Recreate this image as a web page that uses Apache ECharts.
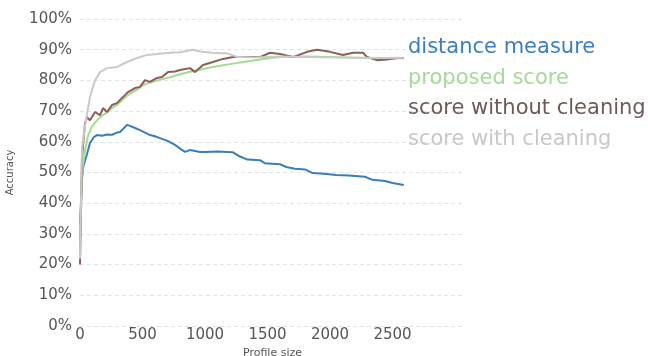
<!DOCTYPE html>
<html>
<head>
<meta charset="utf-8">
<script src="https://cdn.jsdelivr.net/npm/echarts@6/dist/echarts.min.js"></script>
<style>
  html, body { margin: 0; padding: 0; background: #fff; }
  #chart { width: 648px; height: 356px; }
</style>
</head>
<body>
<div id="chart"></div>
<script>
// Accuracy (%) against profile size for four scoring methods
const seriesNames = ['distance measure', 'proposed score', 'score without cleaning', 'score with cleaning'];
const seriesColors = ['#3a7dbb', '#a3dc93', '#8a5f57', '#cacaca'];
const legendColors = ['#3b7fc0', '#a6d99a', '#6e5b57', '#c8c8c8'];

const distanceX = [0, 16, 24, 56, 80, 110, 136, 176, 216, 256, 296, 320, 352, 376, 400, 440, 480, 520, 560, 600, 640, 700, 760, 800, 840, 880, 920, 960, 1000, 1100, 1220, 1280, 1340, 1440, 1480, 1600, 1650, 1720, 1800, 1860, 1950, 2050, 2150, 2280, 2340, 2440, 2500, 2590];
const distanceY = [33, 48, 51.5, 56, 59.6, 61.5, 62.2, 62, 62.4, 62.3, 63, 63.2, 64.5, 65.5, 65.2, 64.5, 63.8, 63, 62.2, 61.8, 61.2, 60.3, 59, 57.8, 56.7, 57.3, 57, 56.7, 56.7, 56.8, 56.6, 55.2, 54.2, 54, 53, 52.7, 51.8, 51.2, 51, 49.8, 49.6, 49.2, 49, 48.6, 47.6, 47.2, 46.6, 45.9];

const proposedX = [0, 16, 40, 64, 96, 136, 176, 216, 256, 296, 336, 376, 416, 456, 496, 536, 576, 640, 720, 800, 880, 960, 1040, 1120, 1200, 1280, 1360, 1440, 1520, 1600, 1800, 2000, 2200, 2400, 2590];
const proposedY = [28, 50, 57, 62, 65, 67, 68.5, 69.5, 71, 72, 73.5, 75, 76, 77, 78.2, 79, 79.5, 80.2, 81, 82, 82.8, 83.5, 84.2, 84.8, 85.3, 85.8, 86.3, 86.8, 87.3, 87.6, 87.8, 87.6, 87.4, 87.2, 87.2];

const withoutX = [0, 16, 40, 56, 80, 120, 160, 184, 216, 256, 296, 336, 360, 384, 400, 440, 480, 520, 560, 616, 656, 704, 760, 800, 880, 920, 984, 1064, 1144, 1224, 1340, 1440, 1520, 1600, 1704, 1816, 1896, 2000, 2104, 2184, 2264, 2296, 2376, 2456, 2536, 2590];
const withoutY = [20, 55, 66, 68, 67, 69.7, 68.7, 71, 69.7, 72, 72.6, 74.3, 75.2, 76.2, 75.9, 77.5, 77.9, 80.1, 79.5, 80.8, 81.1, 82.7, 82.9, 83.4, 84, 82.7, 85, 86, 87, 87.6, 87.6, 87.6, 89, 88.6, 87.6, 89.3, 90, 89.3, 88.3, 89, 89, 87.6, 86.6, 86.8, 87.3, 87.3];

const withX = [0, 16, 40, 56, 80, 120, 160, 216, 296, 376, 456, 536, 616, 720, 800, 904, 960, 1060, 1180, 1260, 1400, 1600, 1800, 2000, 2200, 2400, 2590];
const withY = [22, 58, 65, 69, 74.6, 80, 82.7, 84, 84.4, 86, 87.3, 88.3, 88.6, 89, 89.2, 90, 89.4, 89, 88.8, 87.6, 87.5, 87.8, 87.6, 87.5, 87.4, 87.3, 87.4];

const xTicks = [0, 500, 1000, 1500, 2000, 2500];

const seriesX = [distanceX, proposedX, withoutX, withX];
const seriesY = [distanceY, proposedY, withoutY, withY];

const chart = echarts.init(document.getElementById('chart'), null, { renderer: 'canvas' });

const series = seriesNames.map((name, i) => ({
  name: name,
  type: 'line',
  showSymbol: false,
  symbol: 'none',
  smooth: false,
  lineStyle: { color: seriesColors[i], width: 2 },
  itemStyle: { color: seriesColors[i] },
  data: seriesX[i].map((x, k) => [x, seriesY[i][k]])
}));

chart.setOption({
  animation: false,
  backgroundColor: '#ffffff',
  textStyle: { fontFamily: 'DejaVu Sans' },
  grid: { left: 80, right: 183, top: 19, bottom: 30, containLabel: false, outerBoundsMode: 'none' },
  legend: {
    orient: 'vertical',
    left: 398,
    top: 32,
    icon: 'none',
    itemWidth: 0,
    itemHeight: 21,
    itemGap: 9.7,
    selectedMode: false,
    textStyle: { fontSize: 21, fontFamily: 'DejaVu Sans' },
    data: seriesNames.map((n, i) => ({ name: n, textStyle: { color: legendColors[i] } }))
  },
  xAxis: {
    type: 'value',
    min: 0,
    max: 3080,
    interval: 500,
    name: 'Profile size',
    nameLocation: 'middle',
    nameGap: 15,
    nameTextStyle: { fontSize: 11, color: '#555' },
    axisLine: { show: false },
    axisTick: { show: false },
    splitLine: { show: false },
    axisLabel: {
      fontSize: 15,
      color: '#555',
      margin: 2,
      formatter: v => xTicks.includes(v) ? String(v) : ''
    }
  },
  yAxis: {
    type: 'value',
    min: 0,
    max: 100,
    interval: 10,
    name: 'Accuracy',
    nameLocation: 'middle',
    nameGap: 65,
    nameTextStyle: { fontSize: 10, color: '#555' },
    axisLine: { show: false },
    axisTick: { show: false },
    axisLabel: { fontSize: 15, color: '#555', margin: 8, formatter: '{value}%' },
    splitLine: { show: true, lineStyle: { color: '#e3e3e3', width: 1, type: [4, 3] } }
  },
  series: series
});
</script>
</body>
</html>
